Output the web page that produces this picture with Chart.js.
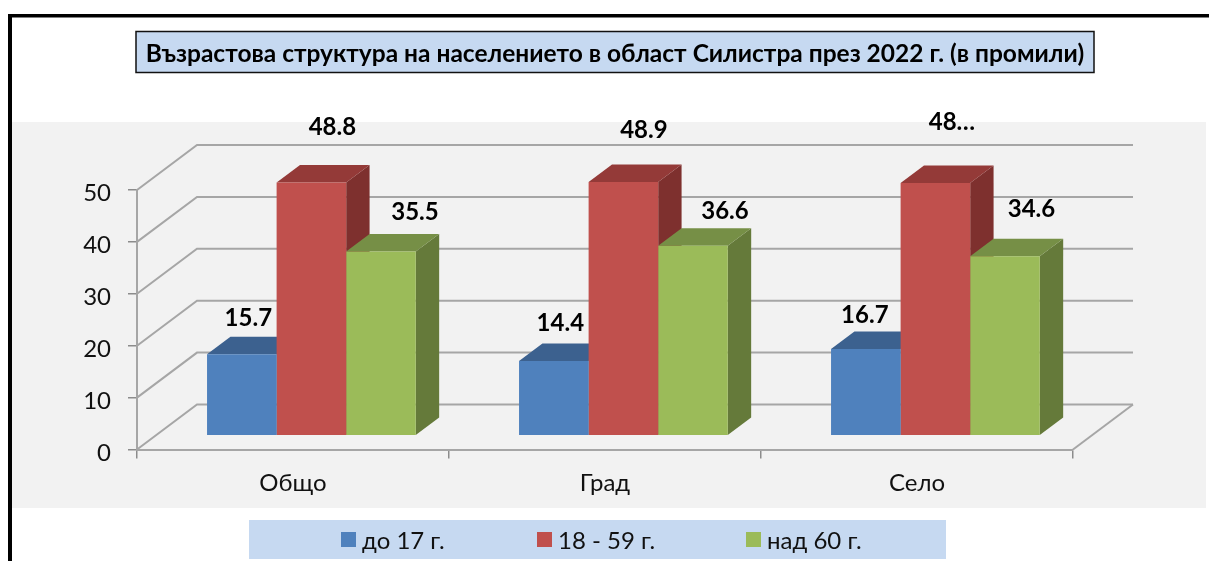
<!DOCTYPE html>
<html lang="bg">
<head>
<meta charset="utf-8">
<title>Възрастова структура</title>
<script src="https://cdn.jsdelivr.net/npm/chart.js@4/dist/chart.umd.min.js"></script>
<style>
html, body { margin: 0; padding: 0; background: #fff; overflow: hidden; }
canvas { display: block; }
</style>
</head>
<body>
<canvas id="diagram" width="1209" height="561"></canvas>
<script>
const chartTitle = "Възрастова структура на населението в област Силистра през 2022 г. (в промили)";
const categories = ["Общо", "Град", "Село"];
const seriesNames = ["до 17 г.", "18 - 59 г.", "над 60 г."];
const youngValues = [15.7, 14.4, 16.7];
const middleValues = [48.8, 48.9, 48.7];
const oldValues = [35.5, 36.6, 34.6];
// the picture cuts one label short, so the texts are kept apart from the values
const youngLabels = ["15.7", "14.4", "16.7"];
const middleLabels = ["48.8", "48.9", "48…"];
const oldLabels = ["35.5", "36.6", "34.6"];

const FONT = "Lato, 'Open Sans', sans-serif";

const fronts = ["#4f81bd", "#c0504d", "#9bbb59"];
const tops = ["#3c618f", "#943a38", "#768f46"];
const sides = ["#335479", "#7e302e", "#657a3a"];
const gridColor = "#a6a6a6";

// fake 3d: how far the bars sit behind the axis plane, how deep they are, how deep the wall is
const plane = { x: 18.4, y: 13.8 };
const depth = { x: 23.4, y: 17.5 };
const wall = { x: 60, y: 45 };

// hand placed data labels, relative to the top centre of each bar
const labelNudge = [
    [[6.5, -36], [6.5, -38], [-1, -34]],
    [[21, -55], [20.5, -52], [16.5, -61]],
    [[34, -39], [32, -34], [26.5, -47]]
];
const labelTexts = [youngLabels, middleLabels, oldLabels];

let panelPlugin = {
    id: "panel",
    beforeDraw(chart) {
        let ctx = chart.ctx;

        // Lato sits higher than the picture's font, push the y tick labels down a bit
        chart.scales.y.getLabelItems().forEach(item => {
            item.options.translation[1] += 3.5;
        });

        ctx.save();
        ctx.fillStyle = "#fff";
        ctx.fillRect(0, 0, 1209, 561);
        ctx.fillStyle = "#f2f2f2";
        ctx.fillRect(12, 122, 1194, 386);

        // outer frame, only top and left are in the picture
        ctx.fillStyle = "#000";
        ctx.fillRect(8, 14, 1201, 3.5);
        ctx.fillRect(8, 14, 4, 547);

        // title box
        ctx.fillStyle = "#c6d9f1";
        ctx.strokeStyle = "#111";
        ctx.lineWidth = 1.5;
        ctx.fillRect(136, 31.5, 958, 41);
        ctx.strokeRect(136, 31.5, 958, 41);
        ctx.fillStyle = "#000";
        ctx.font = "bold 24.5px " + FONT;
        ctx.textAlign = "center";
        ctx.textBaseline = "middle";
        ctx.fillText(chartTitle, 615, 54);

        // legend
        ctx.fillStyle = "#c6d9f1";
        ctx.fillRect(249, 520, 697, 39);
        let boxX = [341, 537, 746];
        ctx.font = "24px " + FONT;
        ctx.textAlign = "left";
        chart.data.datasets.forEach((ds, i) => {
            ctx.fillStyle = ds.backgroundColor;
            ctx.fillRect(boxX[i], 532, 15, 15);
            ctx.fillStyle = "#111";
            ctx.fillText(ds.label, boxX[i] + 21, 541);
        });
        ctx.restore();
    },
    beforeDatasetsDraw(chart) {
        let ctx = chart.ctx;
        let yScale = chart.scales.y;
        let xScale = chart.scales.x;
        let left = xScale.left;
        let right = xScale.right;

        ctx.save();
        ctx.strokeStyle = gridColor;
        ctx.lineWidth = 2;
        yScale.ticks.forEach(t => {
            let y = yScale.getPixelForValue(t.value);
            ctx.beginPath();
            ctx.moveTo(left, y);
            ctx.lineTo(left + wall.x, y - wall.y);
            ctx.lineTo(right + wall.x, y - wall.y);
            ctx.stroke();
        });
        // right edge of the floor
        let y0 = yScale.getPixelForValue(0);
        ctx.beginPath();
        ctx.moveTo(right, y0);
        ctx.lineTo(right + wall.x, y0 - wall.y);
        ctx.stroke();
        ctx.restore();

        // everything in the datasets moves back from the axis plane, restored in afterDatasetsDraw
        ctx.save();
        ctx.translate(plane.x, -plane.y);

        categories.forEach((c, index) => {
            chart.data.datasets.forEach((ds, dsIndex) => {
                let bar = chart.getDatasetMeta(dsIndex).data[index];
                let x0 = bar.x - bar.width / 2;
                let x1 = bar.x + bar.width / 2;

                ctx.fillStyle = sides[dsIndex];
                ctx.beginPath();
                ctx.moveTo(x1, bar.y);
                ctx.lineTo(x1 + depth.x, bar.y - depth.y);
                ctx.lineTo(x1 + depth.x, bar.base - depth.y);
                ctx.lineTo(x1, bar.base);
                ctx.closePath();
                ctx.fill();

                ctx.fillStyle = tops[dsIndex];
                ctx.beginPath();
                ctx.moveTo(x0, bar.y);
                ctx.lineTo(x0 + depth.x, bar.y - depth.y);
                ctx.lineTo(x1 + depth.x, bar.y - depth.y);
                ctx.lineTo(x1, bar.y);
                ctx.closePath();
                ctx.fill();
            });
        });
    },
    afterDatasetsDraw(chart) {
        let ctx = chart.ctx;
        ctx.restore();

        ctx.save();
        ctx.fillStyle = "#000";
        ctx.font = "bold 24px " + FONT;
        ctx.textAlign = "center";
        ctx.textBaseline = "middle";
        chart.data.datasets.forEach((ds, dsIndex) => {
            chart.getDatasetMeta(dsIndex).data.forEach((bar, index) => {
                let nudge = labelNudge[dsIndex][index];
                ctx.fillText(labelTexts[dsIndex][index], bar.x + plane.x + nudge[0], bar.y - plane.y + nudge[1]);
            });
        });
        ctx.restore();
    }
};

new Chart(document.getElementById("diagram"), {
    type: "bar",
    data: {
        labels: categories,
        datasets: [
            { label: seriesNames[0], data: youngValues, backgroundColor: fronts[0] },
            { label: seriesNames[1], data: middleValues, backgroundColor: fronts[1] },
            { label: seriesNames[2], data: oldValues, backgroundColor: fronts[2] }
        ]
    },
    options: {
        responsive: false,
        animation: false,
        layout: { padding: { left: 0, right: 136, top: 190, bottom: 0 } },
        datasets: { bar: { categoryPercentage: 0.669, barPercentage: 1, borderWidth: 0, clip: false } },
        plugins: {
            legend: { display: false },
            title: { display: false },
            tooltip: { enabled: false }
        },
        scales: {
            x: {
                afterFit: s => { s.height = 111.5; },
                grid: { drawOnChartArea: false, color: "#8c8c8c", lineWidth: 1.5, tickLength: 9 },
                border: { color: gridColor, width: 2 },
                ticks: { color: "#111", padding: 10, font: { family: FONT, size: 24 }, maxRotation: 0 }
            },
            y: {
                min: 0,
                max: 50,
                afterFit: s => { s.width = 137; },
                grid: { drawOnChartArea: false, color: "#8c8c8c", lineWidth: 1.5, tickLength: 9 },
                border: { color: gridColor, width: 2 },
                ticks: { color: "#111", padding: 17, stepSize: 10, font: { family: FONT, size: 24 } }
            }
        }
    },
    plugins: [panelPlugin]
});
</script>
</body>
</html>
